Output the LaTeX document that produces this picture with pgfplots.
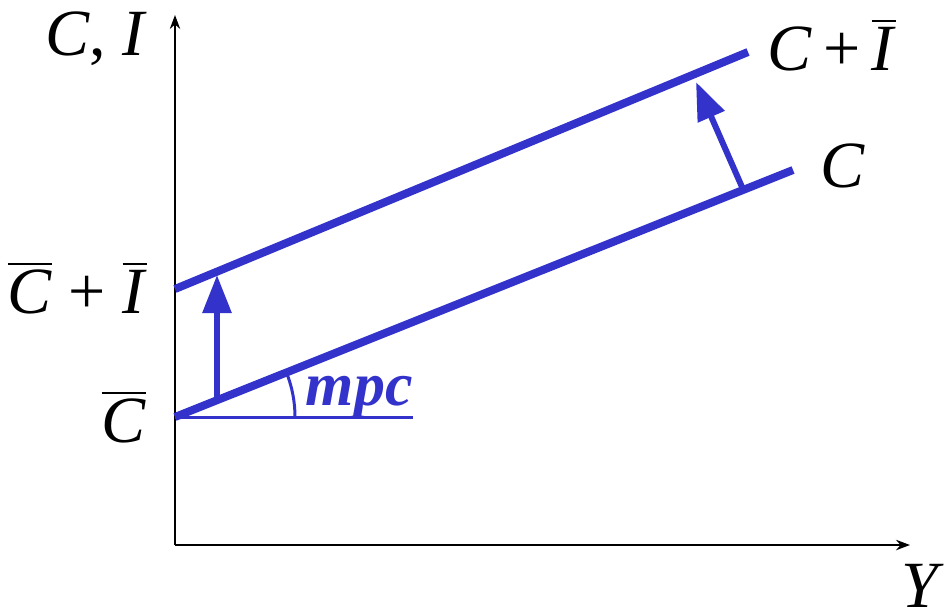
\documentclass[border=0pt]{standalone}
\usepackage{fontspec}
\setmainfont{Liberation Serif}
\usepackage{pgfplots}
\pgfplotsset{compat=1.18}
\usetikzlibrary{arrows.meta}
\definecolor{lblue}{RGB}{51,51,204}
\newcommand{\ob}[1]{$\overline{\mbox{\textit{#1}}}$}
\tikzset{lab/.style={inner sep=0pt, font=\fontsize{16.5}{20}\selectfont}}
\begin{document}
\begin{tikzpicture}[x=1pt,y=1pt]
\begin{axis}[
  at={(0,0)}, anchor=south west,
  scale only axis, width=183.75pt, height=132.5pt,
  xmin=0, xmax=735, ymin=0, ymax=530,
  axis lines=left,
  axis line style={line width=0.5pt, -{Stealth[length=3.5pt,width=2.6pt]}},
  xtick=\empty, ytick=\empty,
  clip=false,
]
% C line and C + I line
\addplot[lblue, line width=2pt] coordinates {(0,128) (618,375)};
\addplot[lblue, line width=2pt] coordinates {(0,256) (573,493)};
% horizontal reference line
\addplot[lblue, line width=0.75pt] coordinates {(0,128) (238,128)};
% shift arrows
\addplot[lblue, line width=1.5pt, -{Triangle[length=9.5pt,width=7pt]}] coordinates {(42,146) (42,270)};
\addplot[lblue, line width=1.5pt, -{Triangle[length=9.5pt,width=7pt]}] coordinates {(567,358) (521,463)};
% angle arc
\draw[lblue, line width=0.75pt] (axis cs:120,128) arc[start angle=0, end angle=21.8, radius=30pt];
% labels
\node[lab, anchor=base west] at (axis cs:-130,490) {\textit{C}, \textit{I}};
\node[lab, anchor=base east] at (axis cs:-27,232) {\ob{C} + \ob{I}};
\node[lab, anchor=base east] at (axis cs:-28,103) {\ob{C}};
\node[lab, anchor=base west] at (axis cs:592,475) {\textit{C}\,+\,\ob{I}};
\node[lab, anchor=base west] at (axis cs:645,358) {\textit{C}};
\node[lab, anchor=base east] at (axis cs:770,-62) {\textit{Y}};
\node[anchor=base west, inner sep=0pt, text=lblue, font=\fontsize{15.5}{18}\selectfont\bfseries\itshape] at (axis cs:130,140) {mpc};
\end{axis}
\pgfresetboundingbox
\path[use as bounding box] (-43.75pt,-17.5pt) rectangle (193.25pt,136.25pt);
\end{tikzpicture}
\end{document}
